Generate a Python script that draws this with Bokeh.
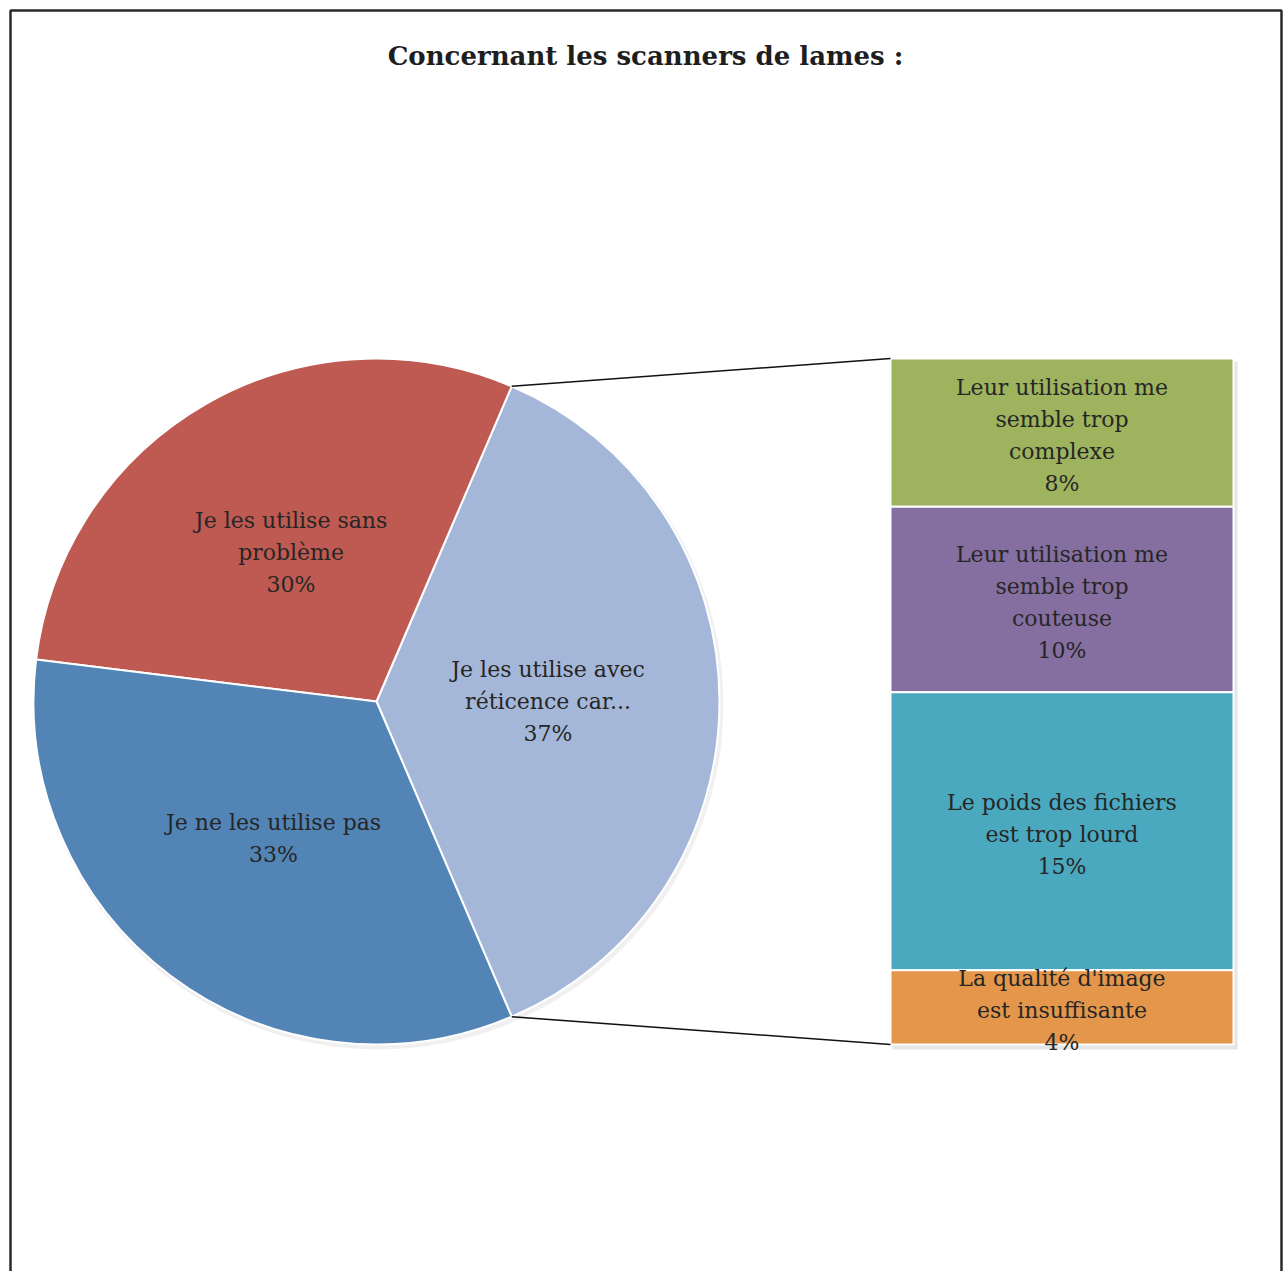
import math
from bokeh.plotting import figure
from bokeh.models import Range1d
from bokeh.embed import file_html
from bokeh.resources import INLINE
from bokeh.core.properties import value

# ---------------- data ----------------
title_text = "Concernant les scanners de lames :"
pie_labels = ["Je les utilise avec\nréticence car...", "Je les utilise sans\nproblème", "Je ne les utilise pas"]
pie_values = [37.1, 29.5, 33.4]
pie_colors = ["#A4B7D8", "#BE5A51", "#5284B6"]

bar_labels = ["Leur utilisation me\nsemble trop\ncomplexe",
              "Leur utilisation me\nsemble trop\ncouteuse",
              "Le poids des fichiers\nest trop lourd",
              "La qualité d'image\nest insuffisante"]
bar_values = [8, 10, 15, 4]
bar_colors = ["#9DB35E", "#856EA0", "#4BA9BF", "#E4964B"]

# ---------------- layout ----------------
W, H = 1284, 1271
FONT = "DejaVu Serif"
TXT = "#262626"
CX, CY, R = 376, H - 701, 343
BX0, BX1, BTOP, BBOT = 890, 1233, H - 358, H - 1044
LINE_H = 32
FS = "22px"

p = figure(width=W, height=H, output_backend="svg", toolbar_location=None,
           x_range=Range1d(0, W), y_range=Range1d(0, H), min_border=0)
p.axis.visible = False
p.grid.visible = False
p.outline_line_color = None
p.background_fill_color = "white"
p.border_fill_color = "white"

# frame (left, top, right)
p.line([10, 10, 1281, 1281], [0, H - 10, H - 10, 0], line_color="#2a2a2a", line_width=2.5)

# title
p.text([645], [H - 55], text=[title_text], text_font=value(FONT), text_font_size="26px",
       text_font_style="bold", text_color="#1e1e1e", text_align="center", text_baseline="middle")

# ---------------- pie ----------------
total = sum(pie_values)
fracs = [v / total for v in pie_values]
start0 = -fracs[0] * math.pi
starts, ends = [], []
a = start0
for f in fracs:
    starts.append(a)
    a += f * 2 * math.pi
    ends.append(a)

# subtle shadow
p.circle([CX + 2], [CY - 3], radius=R + 2, fill_color="#000000", fill_alpha=0.06, line_color=None)
p.wedge(x=[CX] * 3, y=[CY] * 3, radius=R, start_angle=starts, end_angle=ends,
        fill_color=pie_colors, line_color="white", line_width=2)

# pie labels
lx, ly, lt = [], [], []
for lab, v, s, e in zip(pie_labels, pie_values, starts, ends):
    mid = (s + e) / 2
    px = CX + 0.5 * R * math.cos(mid)
    py = CY + 0.5 * R * math.sin(mid)
    lines = lab.split("\n") + [f"{round(100 * v / total)}%"]
    n = len(lines)
    for i, t in enumerate(lines):
        lx.append(px)
        ly.append(py + (n - 1) / 2 * LINE_H - i * LINE_H)
        lt.append(t)

# ---------------- bar ----------------
btot = sum(bar_values)
bh = BTOP - BBOT
tops, bots = [], []
y = BTOP
for v in bar_values:
    tops.append(y)
    y -= bh * v / btot
    bots.append(y)

# shadow
p.quad(left=[BX0 + 2], right=[BX1 + 4], top=[BTOP - 3], bottom=[BBOT - 5],
       fill_color="#000000", fill_alpha=0.10, line_color=None)
p.quad(left=[BX0] * 4, right=[BX1] * 4, top=tops, bottom=bots,
       fill_color=bar_colors, line_color="white", line_width=2)

for lab, v, t0, b0 in zip(bar_labels, bar_values, tops, bots):
    px = (BX0 + BX1) / 2
    py = (t0 + b0) / 2 - 3
    lines = lab.split("\n") + [f"{v}%"]
    n = len(lines)
    for i, t in enumerate(lines):
        lx.append(px)
        ly.append(py + (n - 1) / 2 * LINE_H - i * LINE_H)
        lt.append(t)

p.text(x=lx, y=ly, text=lt, text_font=value(FONT), text_font_size=FS, text_color=TXT,
       text_align="center", text_baseline="middle")

# connector lines
ang_top = ends[0]
ang_bot = starts[0]
p.line([CX + R * math.cos(ang_top), BX0], [CY + R * math.sin(ang_top), BTOP],
       line_color="#111111", line_width=1.5)
p.line([CX + R * math.cos(ang_bot), BX0], [CY + R * math.sin(ang_bot), BBOT],
       line_color="#111111", line_width=1.5)

open("out.html", "w").write(file_html(p, INLINE))
